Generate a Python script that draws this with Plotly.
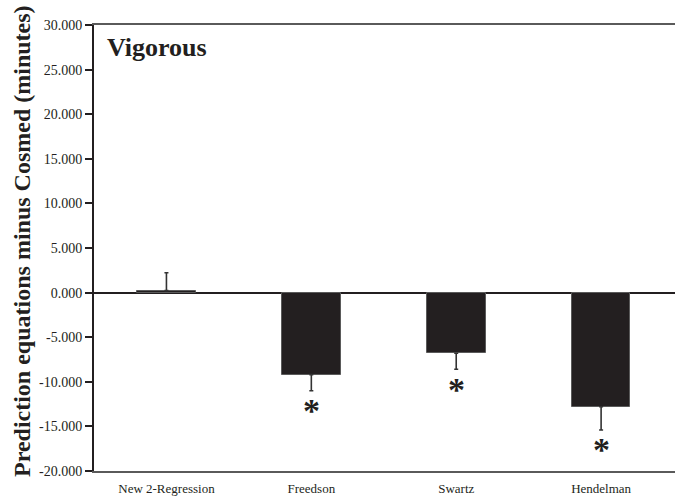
import plotly.graph_objects as go

categories = ["New 2-Regression", "Freedson", "Swartz", "Hendelman"]
means = [0.22, -9.2, -6.8, -12.8]
errors = [2.0, 1.8, 1.8, 2.6]
significant = [False, True, True, True]
y_ticks = [-20, -15, -10, -5, 0, 5, 10, 15, 20, 25, 30]
y_tick_labels = [f"{v:.3f}" for v in y_ticks]
panel_title = "Vigorous"
y_title = "Prediction equations minus Cosmed (minutes)"

SERIF = "Liberation Serif, DejaVu Serif, serif"

err_plus = [e if m >= 0 else 0 for m, e in zip(means, errors)]
err_minus = [e if m < 0 else 0 for m, e in zip(means, errors)]

fig = go.Figure()
fig.add_trace(go.Bar(
    x=categories, y=means, width=0.405,
    marker=dict(color="#231f20", line=dict(color="#5a5a5a", width=1)),
    error_y=dict(type="data", symmetric=False, array=err_plus, arrayminus=err_minus,
                 color="#333333", thickness=1.6, width=2),
    showlegend=False, hoverinfo="skip",
))

annotations = []
for c, m, e, s in zip(categories, means, errors, significant):
    if s:
        annotations.append(dict(
            x=c, y=m - e, xref="x", yref="y", text="<b>*</b>", showarrow=False,
            yanchor="middle", yshift=-20,
            font=dict(family=SERIF, size=34, color="#231f20"),
        ))

annotations.append(dict(
    x=0, y=1, xref="paper", yref="paper", xanchor="left", yanchor="middle",
    xshift=11, yshift=-22, text=f"<b>{panel_title}</b>", showarrow=False,
    font=dict(family=SERIF, size=26, color="#231f20"),
))
annotations.append(dict(
    x=0, y=0.5, xref="paper", yref="paper", xanchor="center", yanchor="middle",
    xshift=-72, yshift=7, text=f"<b>{y_title}</b>", textangle=-90, showarrow=False,
    font=dict(family=SERIF, size=24, color="#231f20"),
))

fig.update_layout(
    width=675, height=497,
    margin=dict(l=94, r=0, t=25, b=26),
    paper_bgcolor="white", plot_bgcolor="white",
    annotations=annotations,
    bargap=0,
)
fig.update_xaxes(
    range=[-0.5, 3.51], showline=True, linecolor="#5a5a5a", linewidth=2, mirror=True,
    ticks="", showgrid=False, zeroline=False,
    tickfont=dict(family=SERIF, size=13, color="#231f20"),
    ticklabelstandoff=4,
)
fig.update_yaxes(
    range=[-20, 30], tickvals=y_ticks, ticktext=y_tick_labels,
    showline=True, linecolor="#231f20", linewidth=2,
    ticks="outside", ticklen=7, tickwidth=1.5, tickcolor="#231f20",
    showgrid=False, zeroline=True, zerolinecolor="#231f20", zerolinewidth=1.5,
    tickfont=dict(family=SERIF, size=14, color="#231f20"),
)

fig.write_html("out.html", config={"displayModeBar": False},
               post_script="document.body.style.margin='0';")
